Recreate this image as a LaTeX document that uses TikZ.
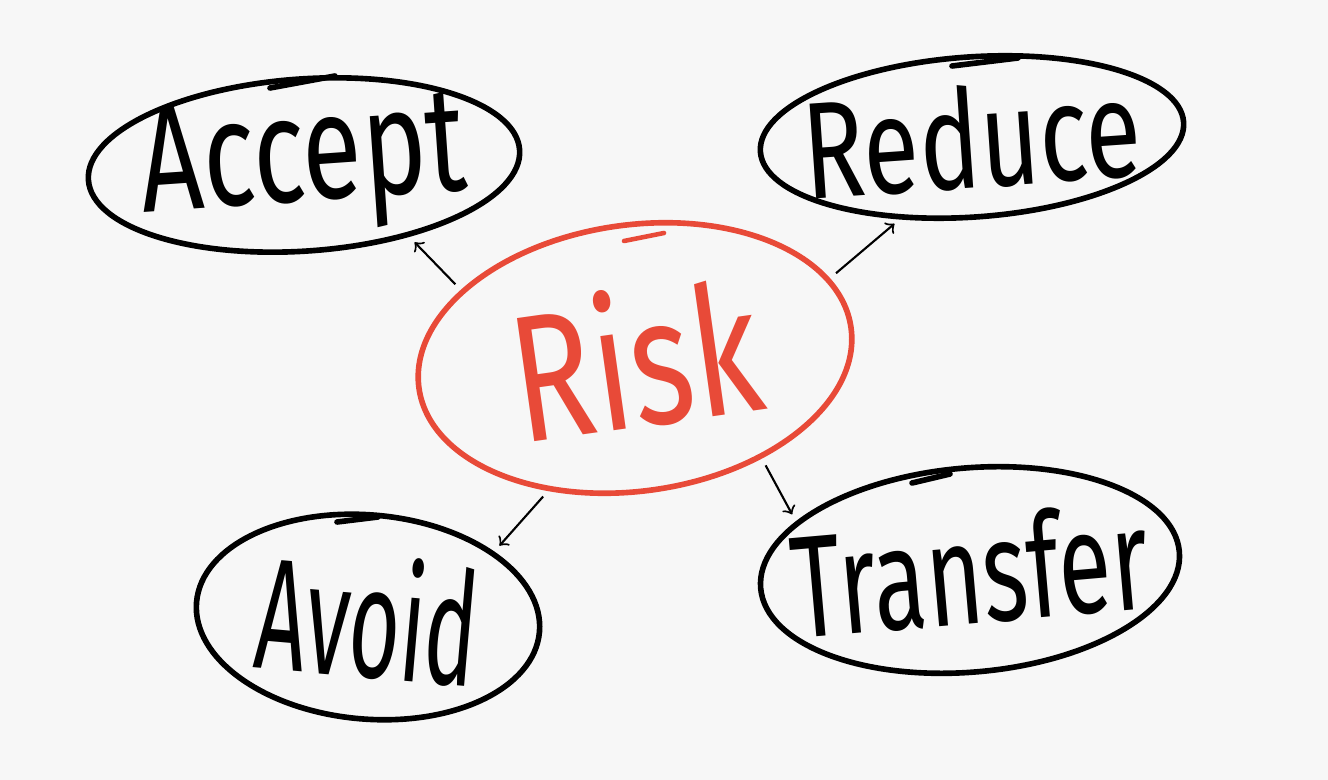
\documentclass[tikz,border=0pt]{standalone}
\usepackage{fontspec}
\setmainfont{Fira Sans}
\usetikzlibrary{arrows,shapes.geometric}
\definecolor{riskred}{HTML}{E84A38}
\definecolor{paper}{HTML}{F7F7F7}
% word set tall and narrow, taking no room in its bubble
\newcommand{\hand}[2][1.4]{\makebox[0pt]{\smash{\raisebox{\dimexpr.5\depth-.5\height\relax}{\scalebox{1}[#1]{#2}}}}}
\begin{document}
\begin{tikzpicture}[x=0.01cm, y=-0.01cm,
				    bubble/.style={draw, ellipse, line width=1.6pt, inner sep=0pt, outer sep=0pt,
				    			  text centered, text=black,
				    			  font=\fontsize{31}{31}\selectfont},
				    link/.style={->, >=to, line width=0.6pt, shorten <=3pt, shorten >=3pt}]
	\fill[paper] (0,0) rectangle (1328,780);
	\node[bubble, minimum width=4.32cm, minimum height=1.72cm, rotate=4] (accept) at (304,165) {\hand[1.38]{Accept}};
	\node[bubble, minimum width=4.24cm, minimum height=1.6cm, rotate=4,
	      font=\fontsize{29}{29}\selectfont] (reduce) at (972,137) {\hand[1.35]{Reduce}};
	\node[bubble, draw=riskred, text=riskred, minimum width=4.36cm, minimum height=2.66cm, rotate=8,
	      font=\fontsize{38}{38}\selectfont] (risk) at (635,358) {\hand[1.35]{Risk}};
	\node[bubble, minimum width=3.44cm, minimum height=2.04cm, rotate=-5,
	      font=\fontsize{25}{25}\selectfont] (avoid) at (368,617) {\hand[1.8]{Avoid}};
	\node[bubble, minimum width=4.2cm, minimum height=2.04cm, rotate=5,
	      font=\fontsize{27.5}{27.5}\selectfont] (transfer) at (970,570) {\hand[1.5]{Transfer}};

	% overlapping pen strokes
	\draw[line width=1.6pt, line cap=round] (270,88) -- (335,76);
	\draw[line width=1.6pt, line cap=round] (952,66) -- (1018,58);
	\draw[riskred, line width=1.3pt, line cap=round] (624,241) -- (664,233);
	\draw[line width=1.6pt, line cap=round] (337,522) -- (378,517);
	\draw[line width=1.6pt, line cap=round] (912,483) -- (950,474);

	\path[link] 	(risk.151)  edge   (accept.-38);
	\path[link] 	(risk.14)  edge   (reduce.-135);
	\path[link] 	(risk.-131)  edge   (avoid.32);
	\path[link] 	(risk.-46)  edge   (transfer.160);

\end{tikzpicture}
\end{document}
